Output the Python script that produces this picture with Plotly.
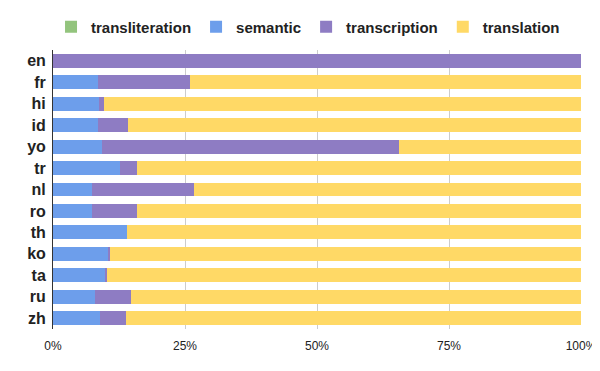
import plotly.graph_objects as go

languages = ["en", "fr", "hi", "id", "yo", "tr", "nl", "ro", "th", "ko", "ta", "ru", "zh"]
transliteration = [0, 0, 0, 0, 0, 0, 0, 0, 0, 0, 0, 0, 0]
semantic = [0, 8.5, 8.7, 8.6, 9.3, 12.7, 7.4, 7.4, 14.0, 10.4, 10.0, 8.0, 8.9]
transcription = [100, 17.4, 1.0, 5.6, 56.2, 3.2, 19.3, 8.5, 0, 0.4, 0.2, 6.8, 4.9]
translation = [round(100 - s - t, 1) for s, t in zip(semantic, transcription)]

series = [
    ("transliteration", transliteration, "#93c47d"),
    ("semantic", semantic, "#6d9eeb"),
    ("transcription", transcription, "#8e7cc3"),
    ("translation", translation, "#ffd966"),
]

fig = go.Figure()
for name, vals, color in series:
    fig.add_trace(go.Bar(
        y=languages, x=vals, name=name, orientation="h",
        marker=dict(color=color, line=dict(width=0)),
    ))

# page body adds an 8px margin, so the figure is a bit smaller than the window
fig.update_layout(
    barmode="stack",
    bargap=0.35,
    width=592, height=363,
    margin=dict(l=45, r=19, t=42, b=42, autoexpand=False),
    plot_bgcolor="white", paper_bgcolor="white",
    font=dict(family="Liberation Sans, Arial, sans-serif", color="#222222"),
    legend=dict(
        orientation="h",
        x=0.483, xanchor="center", y=1.082, yanchor="middle",
        font=dict(size=15, color="#222222", weight="bold"),
        traceorder="normal", itemwidth=30,
    ),
    xaxis=dict(
        range=[0, 100], tickvals=[0, 25, 50, 75, 100],
        ticktext=["0%", "25%", "50%", "75%", "100%"],
        showgrid=True, gridcolor="#cccccc", gridwidth=1,
        zeroline=False, tickfont=dict(size=12, color="#222222"),
        ticklabelstandoff=8, automargin=False,
    ),
    yaxis=dict(
        autorange="reversed", showline=True, linecolor="#333333", linewidth=1,
        tickfont=dict(size=16, color="#222222", weight="bold"),
        ticks="", ticklabelstandoff=3, automargin=False,
    ),
)

fig.write_html("out.html")
